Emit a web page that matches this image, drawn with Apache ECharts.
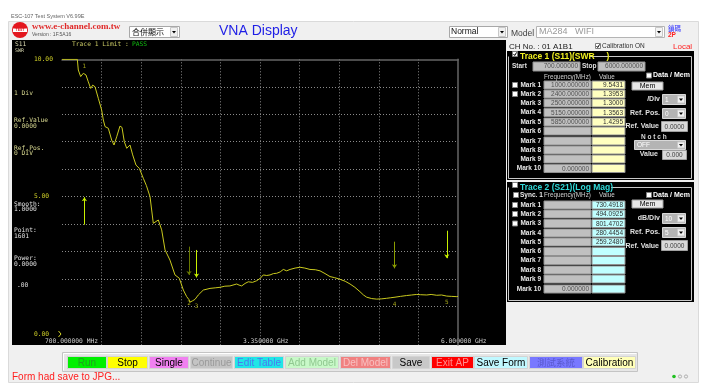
<!DOCTYPE html>
<html><head><meta charset="utf-8">
<script src="https://cdn.jsdelivr.net/npm/echarts@6/dist/echarts.min.js"></script>
<style>html,body{margin:0;padding:0;background:#fff;overflow:hidden}#c{width:707px;height:390px}</style>
</head><body><div id="c"></div>
<script>
// ---------------- data ----------------
const traceFreq=[700,905,918,950,985,1021,1052,1084,1111,1142,1186,1231,1253,1276,1320,1365,1396,1432,1476,1503,1534,1566,1610,1646,1690,1735,1788,1830,1878,1922,1989,2034,2079,2145,2212,2270,2324,2369,2400,2413,2449,2480,2524,2591,2681,2750,2815,2880,2948,3038,3070,3105,3150,3193,3250,3306,3350,3394,3440,3484,3530,3573,3620,3662,3707,3752,3820,3885,3950,4019,4090,4153,4220,4287,4350,4421,4490,4555,4620,4688,4735,4778,4845,4912,4980,5046,5100,5157,5230,5313,5380,5447,5500,5581,5640,5715,5780,5849,5910,5983,6000];
const traceSwr=[10,10,9.61,9.37,9.49,9.43,9.18,8.94,9.06,9.00,8.58,8.15,7.79,7.55,7.49,7.06,6.88,7.18,7.57,7.52,7.00,6.76,6.88,6.52,6.15,6.03,5.67,5.40,5.00,4.03,4.15,3.79,3.06,2.69,2.15,2.03,1.60,1.36,1.25,1.16,1.21,1.26,1.42,1.60,1.66,1.68,1.70,1.74,1.75,1.82,1.78,1.75,1.84,1.90,1.88,1.94,2.02,2.15,2.13,2.15,2.20,2.21,2.26,2.35,2.30,2.35,2.40,2.43,2.40,2.35,2.34,2.30,2.20,2.09,2.05,1.99,1.92,1.82,1.70,1.54,1.42,1.34,1.29,1.27,1.28,1.30,1.32,1.34,1.37,1.40,1.42,1.44,1.43,1.42,1.44,1.41,1.42,1.38,1.37,1.36,1.37];
const markFreq=[1000,2400,2500,5150,5850];
const markSwr=[9.5431,1.3953,1.3000,1.3563,1.4295];
const markTags=['1','2','3','4','5'];
const arrowFreq=[1000,2400,2500,5150,5850];
const arrowTail=[3.98,3.18,3.06,3.36,3.76];
const arrowHead=[4.98,2.15,2.06,2.39,2.76];
const yTickValues=[0,5,10];
const xTickFreqs=[700,3350,6000];
const xTickLabels=['700.000000 MHz','3.350000 GHz','6.000000 GHz'];
const markNames=['Mark 1','Mark 2','Mark 3','Mark 4','Mark 5','Mark 6','Mark 7','Mark 8','Mark 9','Mark 10'];
const t1Freq=['1000.000000','2400.000000','2500.000000','5150.000000','5850.000000','','','','','0.000000'];
const t1Value=['9.5431','1.3953','1.3000','1.3563','1.4295','','','','',''];
const t2Freq=['','','','','','','','','','0.000000'];
const t2Value=['730.4918','494.0925','801.4702','280.4454','259.2480','','','','',''];
const buttonLabels=['Run','Stop','Single','Continue','Edit Table','Add Model','Del Model','Save','Exit AP','Save Form','測試系統','Calibration'];
const leftInfo=[['1 Div',''],['Ref.Value','0.0000'],['Ref.Pos.','0 DIV'],['Smooth:','1.0000'],['Point:','1601'],['Power:','0.0000'],['.00','']];

// ---------------- styles ----------------
const arrowColors=['#c8f000','#687800','#c8f000','#8a9c00','#c8f000'];
const btnX=[[67,107],[107,148],[149,189],[190,233],[234,284],[285,339],[340,391],[392,430],[431,474],[474,528],[529,583],[583,636]];
const btnFill=['#00f000','#ffff00','#f080f0','#c4c4c4','#20e6e6','#c8f8c8','#f08080','#c8c8c8','#ff0000','#c0f8ff','#7878ff','#ffffb8'];
const btnText=['#20a020','#000','#000','#9a9a9a','#4a78f0','#90c890','#f8c0c0','#000','#ff9090','#000','#5a5ad0','#000'];
const MONO='"DejaVu Sans Mono", monospace';
const SANS='"Liberation Sans", Arial, sans-serif';
const CJK='"Noto Sans CJK TC", sans-serif';
const GRIDLINE={color:'#8a8a8a',width:1,type:[1,2]};

const G=[];
function R(x,y,w,h,fill,stroke,z){G.push({type:'rect',silent:true,z:z==null?0:z,shape:{x:x,y:y,width:w,height:h},style:{fill:fill,stroke:stroke||null,lineWidth:stroke?1:0}});}
function T(x,y,s,fill,size,o){o=o||{};G.push({type:'text',silent:true,z:o.z==null?1:o.z,x:x,y:y,style:{text:s,fill:fill,font:(o.bold?'bold ':'')+size+'px '+(o.family||SANS),textAlign:o.align||'left',align:o.align||'left',textVerticalAlign:'middle',verticalAlign:'middle'}});}
function L(x1,y1,x2,y2,c,z){G.push({type:'line',silent:true,z:z==null?0:z,shape:{x1:x1,y1:y1,x2:x2,y2:y2},style:{stroke:c,lineWidth:1}});}
function P(pts,fill,z){G.push({type:'polygon',silent:true,z:z==null?1:z,shape:{points:pts},style:{fill:fill}});}
function CB(x,y,checked){R(x+0.5,y-2.5,5,5,'#ffffff','#808080',1);if(checked){G.push({type:'polyline',silent:true,z:2,shape:{points:[[x+1.5,y],[x+2.7,y+1.5],[x+4.6,y-1.6]]},style:{stroke:'#000',lineWidth:1,fill:null}});}}
function DROP(x,y,h,fill){R(x+0.5,y+0.5,7,h-1,fill||'#f0f0f0','#c8c8c8',1);const cx=x+4,cy=y+h/2;P([[cx-2,cy-1],[cx+2,cy-1],[cx,cy+1.5]],'#000',2);}

// page body
R(8.5,21.5,690,361,'#f0f0f0','#dadada',-20);
R(12,40,494,305,'#000000',null,-10);
T(11,16,'ESC-107 Test System V6.99E','#666',5.5);
// header
G.push({type:'circle',silent:true,z:1,shape:{cx:20,cy:30,r:8},style:{fill:'#e3161e'}});
R(13,28.5,14,3.5,'#ffffff',null,2);
T(20,30.3,'TEST','#e3161e',3.5,{bold:true,align:'center',z:3});
T(32,27,'www.e-channel.com.tw','#e02828',9,{bold:true,family:'"Liberation Serif", serif'});
T(32,34.5,'Version : 1F.5A16','#555',5);
R(129.5,26.5,50,11,'#ffffff','#a8a8a8',1);T(132,32,'合併顯示','#111',8,{family:CJK});DROP(170,27,10);
T(219,31,'VNA Display','#1e1ee6',14);
R(449.5,26.5,58,11,'#ffffff','#a8a8a8',1);T(451,32,'Normal','#111',8.5);DROP(498,27,10);
T(511,33.5,'Model','#404040',8.5);
R(536.5,26.5,128,11,'#ffffff','#b4b4b4',1);T(539,32,'MA284   WIFI','#9a9a9a',9);DROP(655,27,10,'#f4f4f4');
T(668,28.5,'鎖碼','#3030ff',6.5,{family:CJK});T(668,34.8,'2P','#ff2020',6.5,{bold:true});

// chart panel texts
T(15,44.5,'S11','#d8d8b0',6.3,{family:MONO,z:5});
T(15,51,'SWR','#d8d8b0',5,{family:MONO,z:5});
T(72,44.5,'Trace 1 Limit : ','#c8c864',6.3,{family:MONO,z:5});
T(132,44.5,'PASS','#10c010',6.3,{family:MONO,z:5});
const infoY=[[93.3,0],[120.7,126.7],[148.3,153.7],[204,209.3],[230.7,236],[258.3,264],[285.7,0]];
leftInfo.forEach((p,i)=>{const c=i<3?'#d8d890':'#e0e0e0';T(i===6?17:14,infoY[i][0],p[0],c,6.3,{family:MONO,z:5});if(p[1])T(14,infoY[i][1],p[1],c,6.3,{family:MONO,z:5});});

// right panel header line
T(509,46.5,'CH No. : 01 A1B1','#202020',8);
CB(595,46,true);T(602,46.5,'Calibration ON','#303030',6.5);
T(673,46.5,'Local','#ff2020',8);

function tracePanel(top,bottom,title,titleColor,titleEnd,rowYs,freqs,vals,valFill,checks,isT1){
  R(507,top,187,bottom-top,'#000000',null,0);
  L(508.5,top+5.5,508.5,bottom-1.5,'#c8c8c8',1);L(691.5,top+5.5,691.5,bottom-1.5,'#c8c8c8',1);
  L(508.5,bottom-1.5,691.5,bottom-1.5,'#c8c8c8',1);L(titleEnd,top+5.5,691.5,top+5.5,'#c8c8c8',1);
  CB(512,top+3,isT1);
  T(520,top+5.5,title,titleColor,8.5,{bold:true});
  markNames.forEach((n,i)=>{
    const y=rowYs[i];
    T(541,y,n,'#e8e8e8',6.5,{bold:true,align:'right'});
    if(checks>i)CB(512,y,false);
    R(544,y-4,47,8,'#c0c0c0','#909090',1);
    R(592,y-4,33,8,valFill,'#909090',1);
    if(freqs[i])T(589,y+0.3,freqs[i],'#505050',6.5,{align:'right',z:2});
    if(vals[i])T(623,y+0.3,vals[i],'#303030',6.5,{align:'right',z:2});
  });
}
tracePanel(51,180,'Trace 1 (S11)(SWR     )','#f0f020',590,[85,94,103,112.5,122,131,141,150,159,168.5],t1Freq,t1Value,'#ffffc0',2,true);
tracePanel(182,302,'Trace 2 (S21)(Log Mag)','#30d8d8',611,[205,214,223.5,233,242,251.5,260.5,270,279,289],t2Freq,t2Value,'#c0ffff',3,false);
T(512,66,'Start','#e0e0e0',6.5,{bold:true});R(533,62,47,9,'#c0c0c0','#909090',1);T(578,66.5,'700.000000','#505050',6.5,{align:'right',z:2});
T(582,66,'Stop','#e0e0e0',6.5,{bold:true});R(598,62,47,9,'#c0c0c0','#909090',1);T(643,66.5,'6000.000000','#505050',6.5,{align:'right',z:2});
T(544,77,'Frequency(MHz)','#d0d0d0',6.3);T(599,77,'Value','#d0d0d0',6.3);
CB(646,75.5,false);T(653,75.5,'Data / Mem','#ffffff',7,{bold:true});
R(632,82,31,8,'#e8e8e8','#a0a0a0',1);T(647.5,86.3,'Mem','#000',7,{align:'center',z:2});
function darkCombo(x,y,w,h,txt){R(x+0.5,y+0.5,w,h,'#b4b4b4','#d8d8d8',1);T(x+3,y+h/2+0.8,txt,'#ffffff',6.5,{z:2});DROP(x+w-8,y+1.5,h-2);}
T(660,99,'/Div','#e0e0e0',7,{align:'right',bold:true});darkCombo(662,94,23,10,'1');
T(660,113,'Ref. Pos.','#e0e0e0',7,{align:'right',bold:true});darkCombo(662,108,23,10,'0');
T(659,126,'Ref. Value','#e0e0e0',7,{align:'right',bold:true});R(661.5,121.5,26,10,'#d8d8d8','#a0a0a0',1);T(674.5,126.8,'0.0000','#404040',6.5,{align:'center',z:2});
T(641,137.5,'N o t c h','#d8d8d8',6.5,{bold:true});
darkCombo(634,140,51,9,'OFF');
T(658,154.5,'Value','#e0e0e0',7,{align:'right',bold:true});R(662.5,150.5,24,9,'#d8d8d8','#a0a0a0',1);T(674.5,155.3,'0.000','#404040',6.5,{align:'center',z:2});
CB(513,195,false);T(520,195,'Sync. 1','#e8e8e8',6.5,{bold:true});
T(544,195,'Frequency(MHz)','#d0d0d0',6.3);T(599,195,'Value','#d0d0d0',6.3);
CB(646,195,false);T(653,195,'Data / Mem','#ffffff',7,{bold:true});
R(632,200,31,8,'#e8e8e8','#a0a0a0',1);T(647.5,204.3,'Mem','#000',7,{align:'center',z:2});
T(660,218,'dB/Div','#e0e0e0',7,{align:'right',bold:true});darkCombo(662,213,23,10,'10');
T(660,232,'Ref. Pos.','#e0e0e0',7,{align:'right',bold:true});darkCombo(662,227,23,10,'5');
T(659,246,'Ref. Value','#e0e0e0',7,{align:'right',bold:true});R(661.5,240.5,26,10,'#d8d8d8','#a0a0a0',1);T(674.5,245.8,'0.0000','#404040',6.5,{align:'center',z:2});

// buttons
R(62.5,352.5,575,19,'#e6e6e6','#c4c4c4',0);
L(63.5,353.5,636.5,353.5,'#ffffff',1);L(63.5,353.5,63.5,370.5,'#ffffff',1);
buttonLabels.forEach((b,i)=>{const x0=btnX[i][0],x1=btnX[i][1];R(x0+0.5,356.5,x1-x0-1,12,btnFill[i],'#d4d4d4',1);T((x0+x1)/2,362.8,b,btnText[i],i===10?9.5:10,{align:'center',z:2,family:i===10?CJK:SANS});});
T(12,377.5,'Form had save to JPG...','#ff2020',10);
G.push({type:'circle',silent:true,z:1,shape:{cx:674,cy:376.5,r:1.8},style:{fill:'#20c020'}});
G.push({type:'circle',silent:true,z:1,shape:{cx:680,cy:376.5,r:1.6},style:{fill:'none',stroke:'#a0a0a0',lineWidth:0.8}});
G.push({type:'circle',silent:true,z:1,shape:{cx:686,cy:376.5,r:1.6},style:{fill:'none',stroke:'#a0a0a0',lineWidth:0.8}});

const chart=echarts.init(document.getElementById('c'),null,{renderer:'canvas'});
const option={
  animation:false,
  backgroundColor:'#ffffff',
  grid:[
    {left:62,top:59.3,width:396,height:274.7,show:false,zlevel:1},
    {left:62,top:59.3,width:396,height:285.7,show:false,zlevel:1}
  ],
  xAxis:[
    {gridIndex:0,zlevel:1,type:'value',min:700,max:6000,show:false,splitLine:{show:false}},
    {gridIndex:1,zlevel:1,type:'value',min:0,max:10,interval:1,position:'top',axisLine:{show:true,onZero:false,lineStyle:{color:'#666666',width:1.5}},axisTick:{show:false},axisLabel:{show:false},splitLine:{show:true,showMinLine:false,showMaxLine:false,lineStyle:GRIDLINE}}
  ],
  yAxis:[
    {gridIndex:0,zlevel:1,type:'value',min:0,max:10,interval:1,axisLine:{show:false,onZero:false},axisTick:{show:false},
     axisLabel:{show:true,align:'left',margin:28,color:'#d4d428',fontFamily:MONO,fontSize:6.3,formatter:v=>yTickValues.indexOf(v)>=0?v.toFixed(2):''},
     splitLine:{show:true,showMinLine:false,showMaxLine:false,lineStyle:GRIDLINE}},
    {gridIndex:1,zlevel:1,type:'value',min:0,max:1,position:'right',axisLine:{show:true,onZero:false,lineStyle:{color:'#666666',width:1.5}},axisTick:{show:false},axisLabel:{show:false},splitLine:{show:false}}
  ],
  series:[
    {type:'line',zlevel:1,xAxisIndex:0,yAxisIndex:0,data:traceFreq.map((f,i)=>[f,traceSwr[i]]),showSymbol:false,symbol:'none',lineStyle:{color:'#c9c91e',width:1},z:5},
    {type:'lines',zlevel:1,coordinateSystem:'cartesian2d',xAxisIndex:0,yAxisIndex:0,symbol:['none','arrow'],symbolSize:4,z:6,
     lineStyle:{width:1,opacity:1},
     data:arrowFreq.map((f,i)=>({coords:[[f,arrowTail[i]],[f,arrowHead[i]]],lineStyle:{color:arrowColors[i],width:1,opacity:1}}))},
    {type:'scatter',zlevel:1,xAxisIndex:0,yAxisIndex:0,symbolSize:0,z:7,
     data:markFreq.map((f,i)=>({value:[f,markSwr[i]],label:{position:i===0?'top':'bottom',distance:i===0?2:5}})),
     label:{show:true,color:'#c9c91e',fontFamily:MONO,fontSize:6,formatter:p=>markTags[p.dataIndex]}}
  ],
  graphic:{elements:G}
};
chart.setOption(option);
xTickFreqs.forEach((f,i)=>{const px=chart.convertToPixel({xAxisIndex:0},f);T(px-17,341.5,xTickLabels[i],'#d0d0d0',6.3,{family:MONO,z:5});});
(function(){const py=chart.convertToPixel({yAxisIndex:0},0);const px=chart.convertToPixel({xAxisIndex:0},700);
 G.push({type:'polyline',silent:true,z:5,shape:{points:[[px-3.5,py-3],[px-1,py],[px-3.5,py+3]]},style:{stroke:'#d4d428',lineWidth:1,fill:null}});})();
chart.setOption({graphic:{elements:G}});
</script></body></html>
